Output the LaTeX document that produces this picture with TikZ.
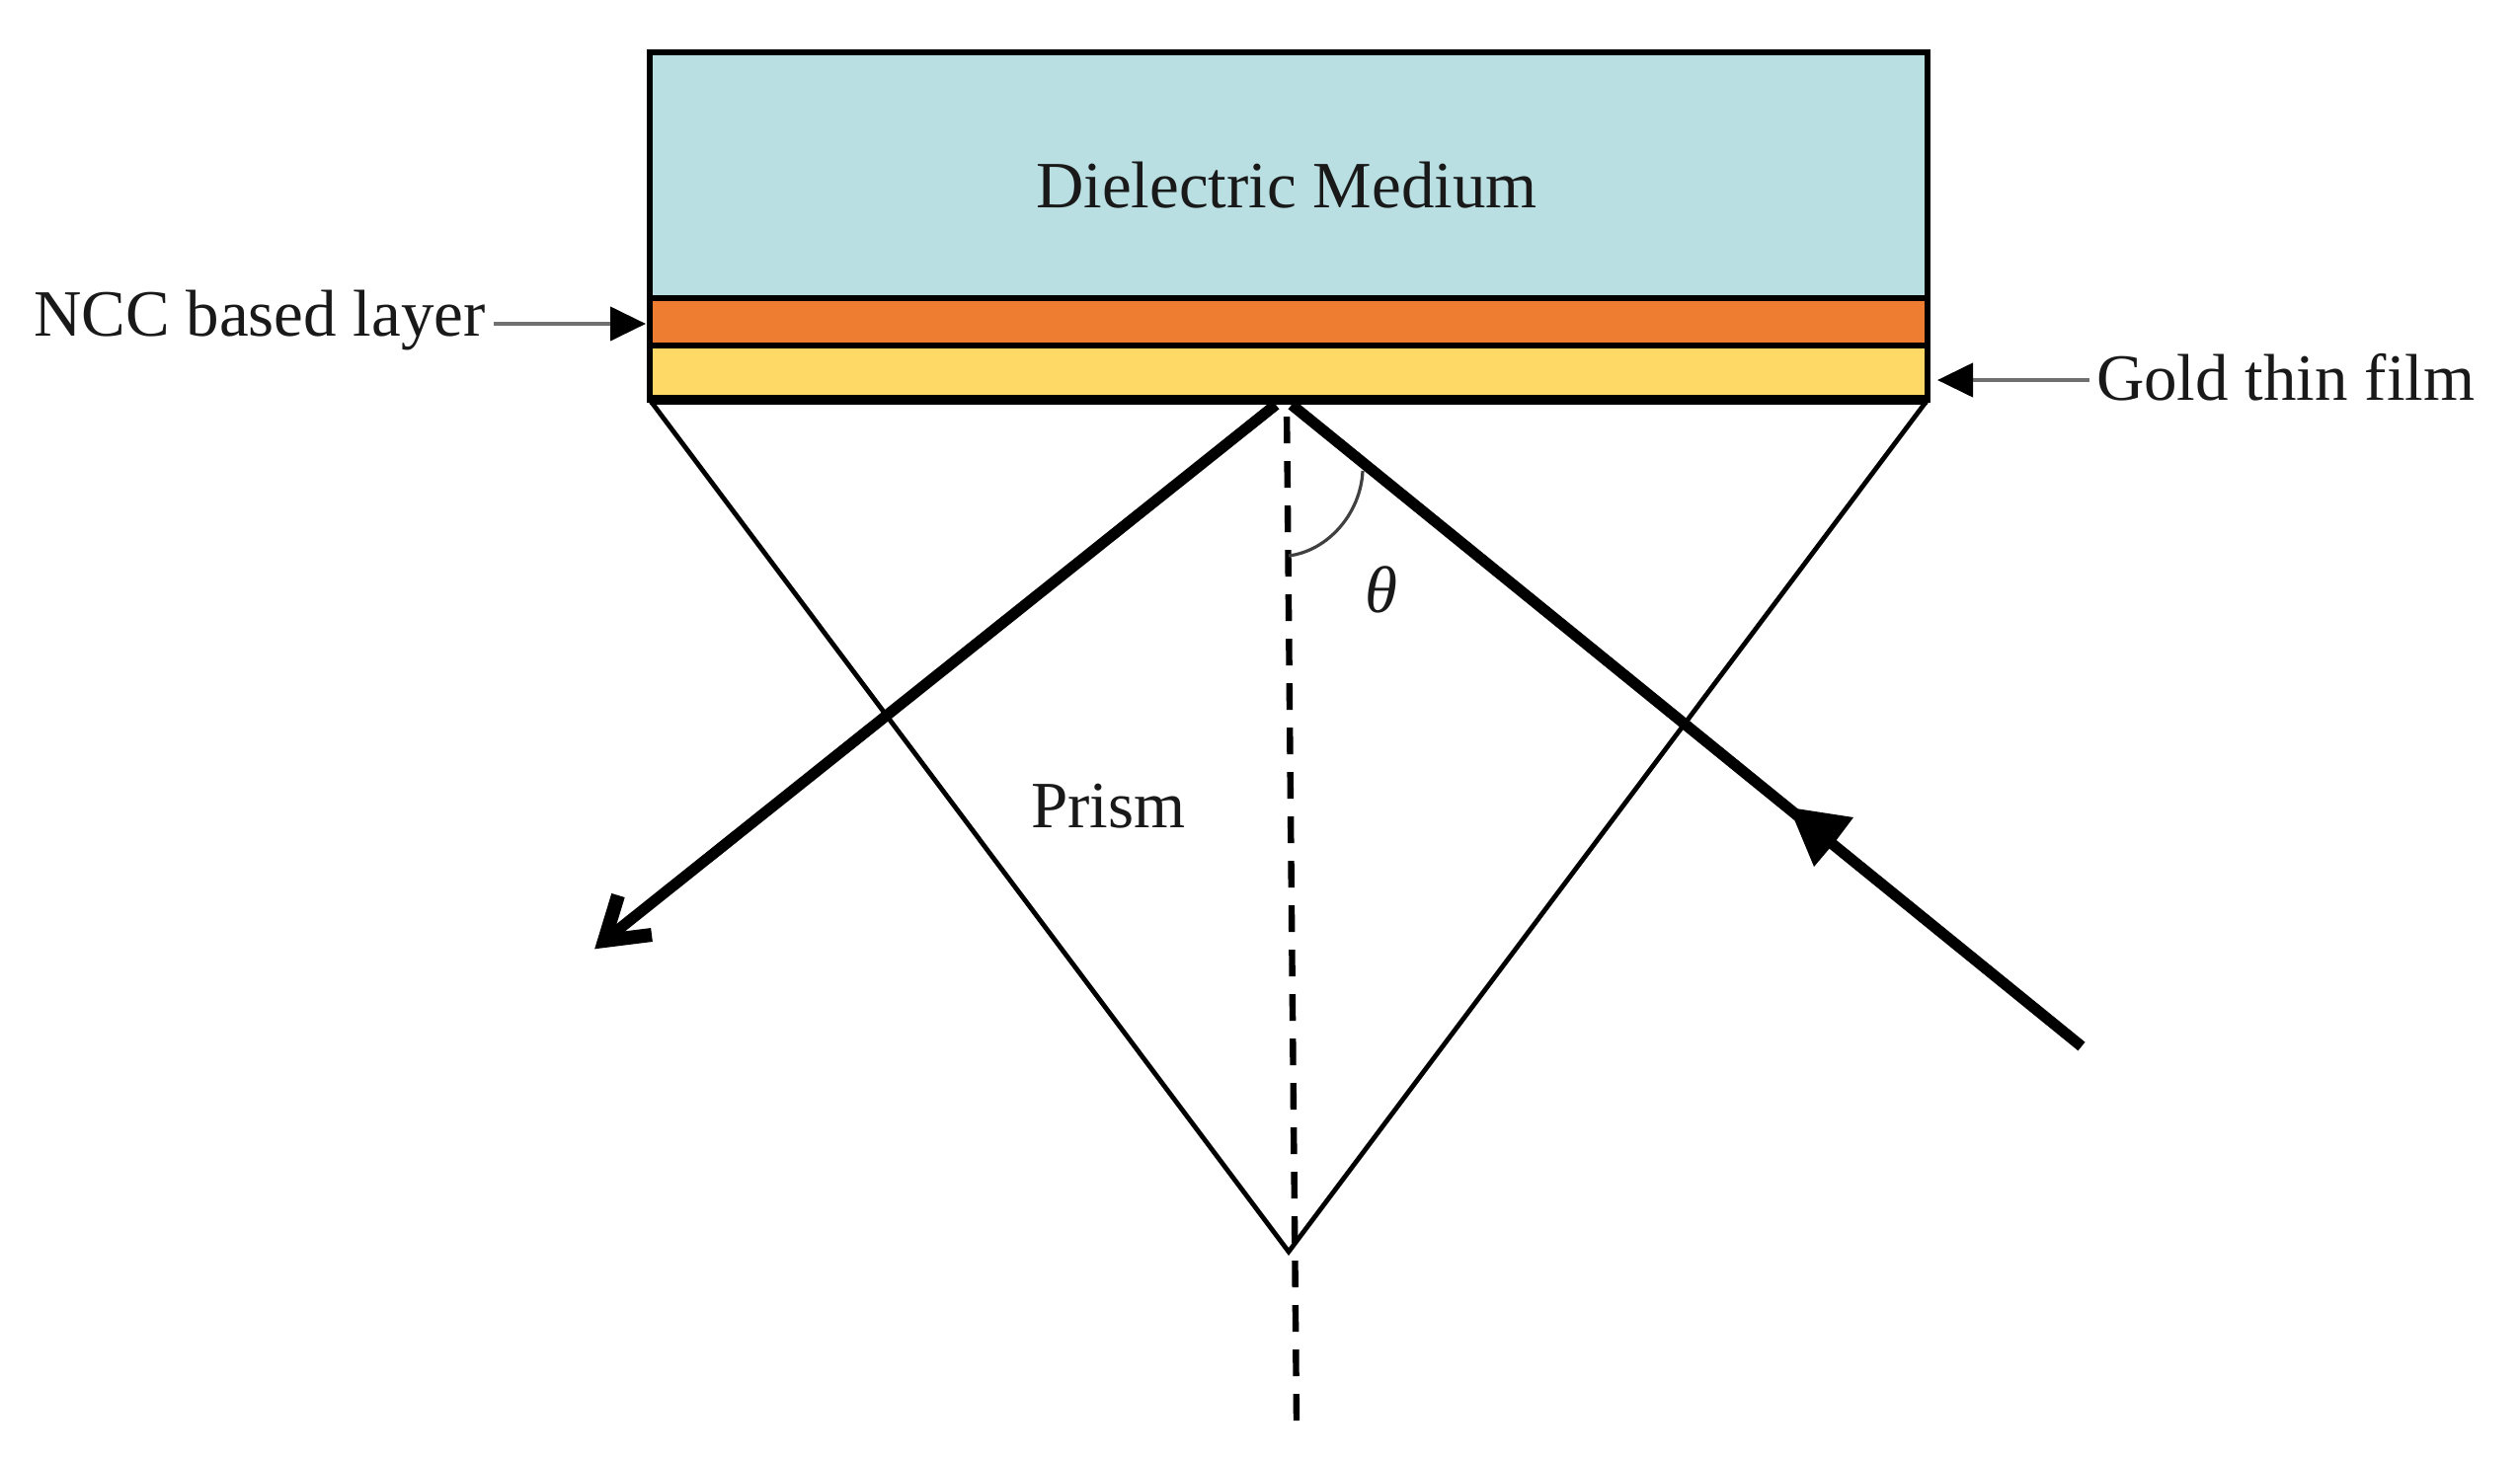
\documentclass[tikz,border=0pt]{standalone}
\usepackage{fontspec}
\setmainfont{Liberation Serif}
\usetikzlibrary{arrows.meta}
\definecolor{mediumblue}{HTML}{B9DFE2}
\definecolor{nccorange}{HTML}{EE7D31}
\definecolor{goldyellow}{HTML}{FFD966}
\definecolor{leadergray}{HTML}{707070}
\tikzset{
  layerbox/.style={draw=black,line width=3pt,inner sep=0pt,outer sep=0pt,minimum width=647pt},
  labeltext/.style={inner sep=0pt,outer sep=0pt,anchor=base west,font=\fontsize{33.5}{36}\selectfont,text=black!90},
  leader/.style={draw=leadergray,line width=2.2pt,-{Triangle[length=18pt,width=17pt,color=black]}},
  prismline/.style={draw=black,line width=2.4pt,line join=miter},
  axisline/.style={draw=black,line width=3.2pt,dash pattern=on 13.5pt off 9pt},
  rayline/.style={draw=black,line width=5.6pt},
}
\begin{document}
\begin{tikzpicture}[x=0.5pt,y=-0.5pt]
\useasboundingbox (0,0) rectangle (2552,1478);
% layers
\node[layerbox,fill=mediumblue,minimum height=124.5pt] (medium) at (1305,177.5) {};
\node[layerbox,fill=nccorange,minimum height=24pt] (ncclayer) at (1305,326) {};
\node[layerbox,fill=goldyellow,minimum height=27.5pt] (goldlayer) at (1305,377.5) {};
\draw[black,line width=5pt] (goldlayer.south west) -- (goldlayer.south east);
% labels
\node[labeltext] (dielectric) at (1049,210) {Dielectric Medium};
\node[labeltext] (ncclabel) at (34,340) {NCC based layer};
\node[labeltext] (goldlabel) at (2123,405) {Gold thin film};
\node[labeltext] (prismlabel) at (1044,838) {Prism};
\node[inner sep=0pt,outer sep=0pt,font=\fontsize{33.5}{36}\selectfont\itshape,text=black!90] (thetalabel) at (1399,597) {θ};
% leaders
\coordinate (nccstart) at (500,328);
\coordinate (ncctip) at (654,328);
\coordinate (goldstart) at (2116,385);
\coordinate (goldtip) at (1962,385);
\draw[leader] (nccstart) -- (ncctip);
\draw[leader] (goldstart) -- (goldtip);
% prism
\coordinate (apex) at (1305,1268);
\draw[prismline] (goldlayer.south west) -- (apex) -- (goldlayer.south east);
% axis
\coordinate (axistop) at (1303,408);
\coordinate (axisbottom) at (1313,1439);
\draw[axisline] (axisbottom) -- (axistop);
% reflected ray
\coordinate (leftstart) at (1292,410);
\coordinate (lefttip) at (612,953);
\coordinate (leftbarbA) at (626,907);
\coordinate (leftbarbB) at (660,947);
\draw[rayline] (leftstart) -- (lefttip);
\draw[black,line width=7pt,line join=miter,miter limit=10] (leftbarbA) -- (lefttip) -- (leftbarbB);
% incident ray
\coordinate (rightstart) at (1308,410);
\coordinate (righttail) at (2108,1060);
\draw[rayline] (righttail) -- (rightstart);
\coordinate (headtip) at (1812,818);
\coordinate (headA) at (1877,828);
\coordinate (headN) at (1859,852);
\coordinate (headB) at (1837,878);
\fill[black] (headtip) -- (headA) -- (headN) -- (headB) -- cycle;
% angle arc
\coordinate (arcstart) at (1380,477);
\coordinate (arcend) at (1305,563);
\draw[black!75,line width=1.6pt] (arcstart) .. controls (1378,520) and (1345,558) .. (arcend);
\end{tikzpicture}
\end{document}
